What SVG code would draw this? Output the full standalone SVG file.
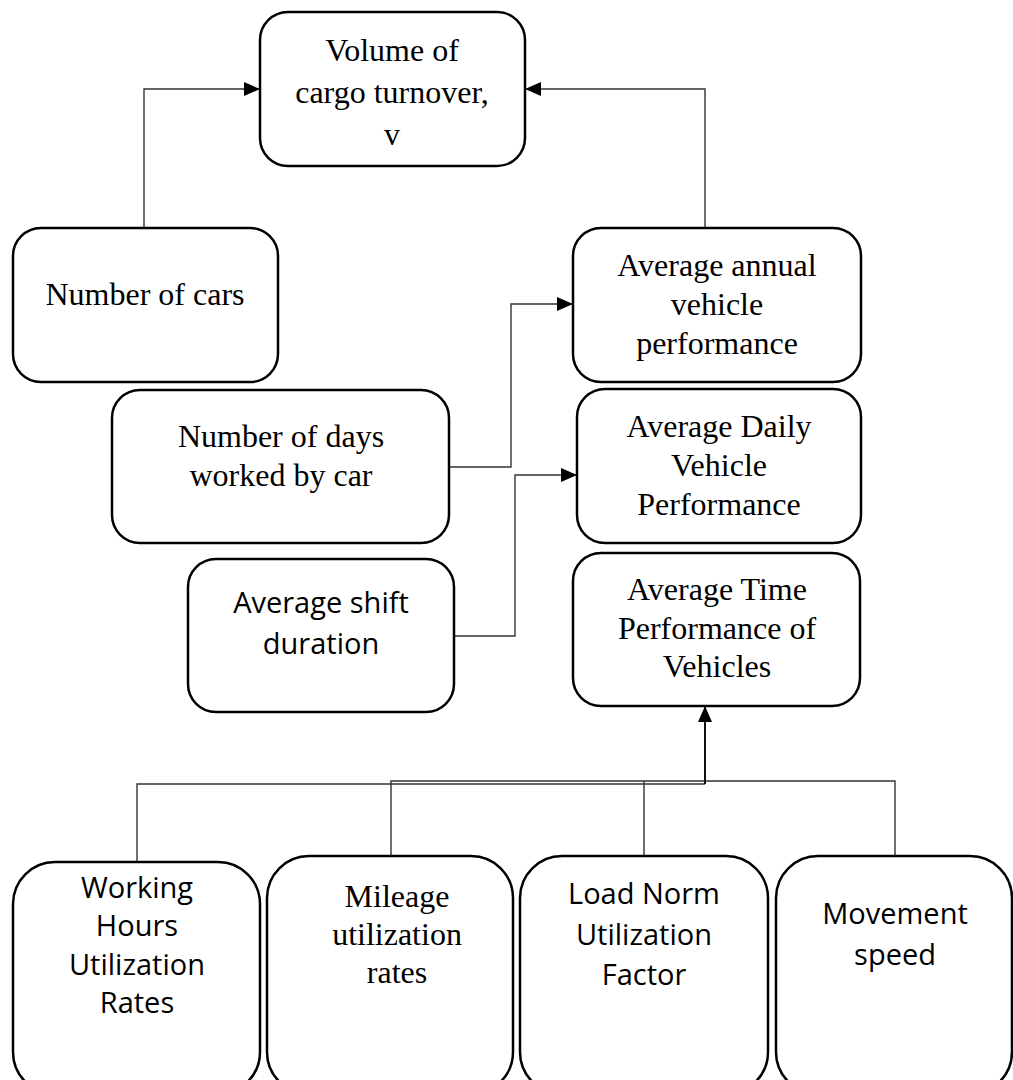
<svg xmlns="http://www.w3.org/2000/svg" width="1013" height="1080" viewBox="0 0 1013 1080">
  <style>
    .box { fill: #ffffff; stroke: #000000; stroke-width: 2.5; }
    .serif { font-family: "Liberation Serif", "Times New Roman", serif; font-size: 32px; fill: #000000; text-anchor: middle; }
    .sans { font-family: "Open Sans", "Noto Sans", sans-serif; font-size: 29px; fill: #000000; text-anchor: middle; }
    .link { fill: none; stroke: #333333; stroke-width: 1.4; }
    .link-arrow { fill: none; stroke: #333333; stroke-width: 1.4; marker-end: url(#head); }
    .stem { fill: none; stroke: #111111; stroke-width: 2; marker-end: url(#head); }
  </style>
  <defs>
    <marker id="head" viewBox="0 0 16 14" refX="16" refY="7" markerWidth="16" markerHeight="14" markerUnits="userSpaceOnUse" orient="auto">
      <path d="M0,0 L16,7 L0,14 Z" fill="#000000"/>
    </marker>
  </defs>
  <rect width="1013" height="1080" fill="#ffffff"/>

  <g id="connectors">
    <!-- Number of cars -> Volume of cargo turnover -->
    <path class="link-arrow" d="M144,228 V89 H260"/>
    <!-- Average annual vehicle performance -> Volume of cargo turnover -->
    <path class="link-arrow" d="M705,228 V89 H525"/>
    <!-- Number of days worked -> Average annual vehicle performance -->
    <path class="link-arrow" d="M449,467 H511 V304 H573"/>
    <!-- Average shift duration -> Average Daily Vehicle Performance -->
    <path class="link-arrow" d="M454,636 H515 V475 H577"/>
    <!-- bottom factors bus -->
    <path class="link" d="M137,862 V784 H705"/>
    <path class="link" d="M391,856 V781 H895 V856"/>
    <path class="link" d="M644,856 V781"/>
    <path class="stem" d="M705,784 V706"/>
  </g>

  <g id="volume">
    <rect class="box" x="260" y="12" width="265" height="154" rx="28"/>
    <text class="serif" x="392" y="61">Volume of</text>
    <text class="serif" x="392" y="103">cargo turnover,</text>
    <text class="serif" x="392" y="145">v</text>
  </g>

  <g id="cars">
    <rect class="box" x="13" y="228" width="265" height="154" rx="28"/>
    <text class="serif" x="145" y="305">Number of cars</text>
  </g>

  <g id="annual">
    <rect class="box" x="573" y="228" width="288" height="154" rx="28"/>
    <text class="serif" x="717" y="276">Average annual</text>
    <text class="serif" x="717" y="315">vehicle</text>
    <text class="serif" x="717" y="354">performance</text>
  </g>

  <g id="days">
    <rect class="box" x="112" y="390" width="337" height="153" rx="28"/>
    <text class="serif" x="281" y="447">Number of days</text>
    <text class="serif" x="281" y="486">worked by car</text>
  </g>

  <g id="daily">
    <rect class="box" x="577" y="389" width="284" height="154" rx="28"/>
    <text class="serif" x="719" y="437">Average Daily</text>
    <text class="serif" x="719" y="476">Vehicle</text>
    <text class="serif" x="719" y="515">Performance</text>
  </g>

  <g id="shift">
    <rect class="box" x="188" y="559" width="266" height="153" rx="28"/>
    <text class="sans" x="321" y="613">Average shift</text>
    <text class="sans" x="321" y="654">duration</text>
  </g>

  <g id="time">
    <rect class="box" x="573" y="553" width="287" height="153" rx="28"/>
    <text class="serif" x="717" y="600">Average Time</text>
    <text class="serif" x="717" y="639">Performance of</text>
    <text class="serif" x="717" y="677">Vehicles</text>
  </g>

  <g id="working-hours">
    <rect class="box" x="13" y="862" width="247" height="232" rx="42"/>
    <text class="sans" x="137" y="898">Working</text>
    <text class="sans" x="137" y="936">Hours</text>
    <text class="sans" x="137" y="975">Utilization</text>
    <text class="sans" x="137" y="1013">Rates</text>
  </g>

  <g id="mileage">
    <rect class="box" x="267" y="856" width="246" height="238" rx="42"/>
    <text class="serif" x="397" y="907">Mileage</text>
    <text class="serif" x="397" y="945">utilization</text>
    <text class="serif" x="397" y="983">rates</text>
  </g>

  <g id="load-norm">
    <rect class="box" x="520" y="856" width="248" height="238" rx="42"/>
    <text class="sans" x="644" y="904">Load Norm</text>
    <text class="sans" x="644" y="945">Utilization</text>
    <text class="sans" x="644" y="985">Factor</text>
  </g>

  <g id="speed">
    <rect class="box" x="776" y="856" width="236" height="238" rx="42"/>
    <text class="sans" x="895" y="924">Movement</text>
    <text class="sans" x="895" y="965">speed</text>
  </g>
</svg>
